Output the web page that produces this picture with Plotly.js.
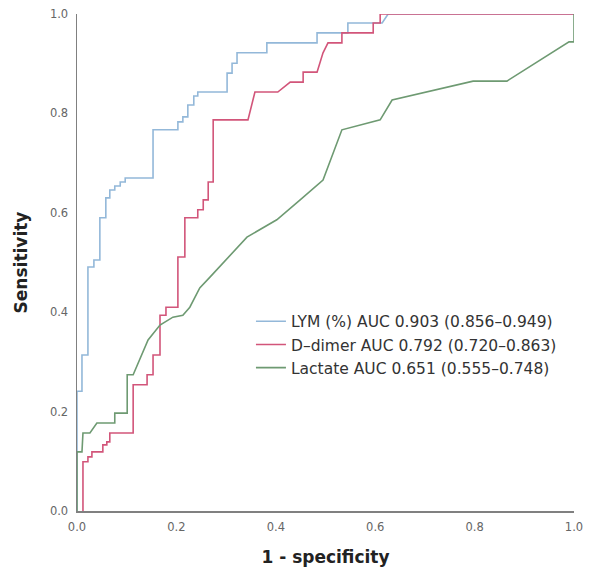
<!DOCTYPE html>
<html>
<head>
<meta charset="utf-8">
<script src="https://cdn.plot.ly/plotly-3.0.1.min.js"></script>
<style>html,body{margin:0;padding:0;background:#fff;}#chart{width:589px;height:578px;}</style>
</head>
<body>
<div id="chart"></div>
<script>
// ROC curve vertices: false positive rate (1 - specificity) and sensitivity
const lymFPR = [0,0,0.010,0.010,0.022,0.022,0.034,0.034,0.046,0.046,0.058,0.058,0.066,0.066,0.076,0.076,0.087,0.087,0.097,0.097,0.153,0.153,0.203,0.203,0.213,0.213,0.223,0.223,0.235,0.235,0.243,0.243,0.302,0.302,0.312,0.312,0.322,0.322,0.382,0.382,0.483,0.483,0.545,0.545,0.614,0.626,1];
const lymTPR = [0,0.241,0.241,0.314,0.314,0.491,0.491,0.505,0.505,0.590,0.590,0.630,0.630,0.646,0.646,0.654,0.654,0.662,0.662,0.670,0.670,0.767,0.767,0.783,0.783,0.793,0.793,0.817,0.817,0.835,0.835,0.843,0.843,0.881,0.881,0.901,0.901,0.922,0.922,0.942,0.942,0.962,0.962,0.982,0.982,1,1];

const ddFPR = [0.012,0.012,0.022,0.022,0.030,0.030,0.052,0.052,0.060,0.060,0.066,0.066,0.113,0.113,0.141,0.141,0.153,0.153,0.167,0.167,0.179,0.179,0.203,0.203,0.217,0.217,0.243,0.243,0.254,0.254,0.264,0.264,0.274,0.274,0.344,0.358,0.404,0.429,0.455,0.455,0.483,0.495,0.505,0.533,0.533,0.596,0.596,0.610,0.610,1];
const ddTPR = [0,0.099,0.099,0.109,0.109,0.119,0.119,0.133,0.133,0.139,0.139,0.157,0.157,0.254,0.254,0.274,0.274,0.314,0.314,0.394,0.394,0.410,0.410,0.511,0.511,0.590,0.590,0.606,0.606,0.626,0.626,0.662,0.662,0.787,0.787,0.843,0.843,0.863,0.863,0.883,0.883,0.922,0.942,0.942,0.962,0.962,0.982,0.982,1,1];

const lacFPR = [0,0,0.010,0.012,0.026,0.040,0.076,0.076,0.101,0.101,0.113,0.131,0.143,0.167,0.193,0.213,0.227,0.247,0.268,0.342,0.402,0.449,0.495,0.533,0.610,0.634,0.797,0.865,0.990,1,1];
const lacTPR = [0,0.119,0.119,0.157,0.157,0.177,0.177,0.197,0.197,0.274,0.274,0.318,0.344,0.374,0.390,0.394,0.410,0.449,0.471,0.551,0.586,0.626,0.666,0.767,0.787,0.827,0.865,0.865,0.944,0.944,1];

const seriesNames = ["LYM (%) AUC 0.903 (0.856\u20130.949)", "D\u2013dimer AUC 0.792 (0.720\u20130.863)", "Lactate AUC 0.651 (0.555\u20130.748)"];
const tickVals = [0, 0.2, 0.4, 0.6, 0.8, 1.0];
const tickText = ["0.0", "0.2", "0.4", "0.6", "0.8", "1.0"];

const traces = [
  {x: lymFPR, y: lymTPR, name: seriesNames[0], mode: "lines", line: {color: "#93b8d9", width: 1.6}},
  {x: ddFPR, y: ddTPR, name: seriesNames[1], mode: "lines", line: {color: "#d2557a", width: 1.6}},
  {x: lacFPR, y: lacTPR, name: seriesNames[2], mode: "lines", line: {color: "#6e9a72", width: 1.6}}
];

const axisCommon = {
  range: [0, 1], tickvals: tickVals, ticktext: tickText,
  showgrid: false, zeroline: false, showline: true, linecolor: "#808080", linewidth: 1.5,
  ticks: "", ticklabelstandoff: 5, tickfont: {family: "DejaVu Sans", size: 11.5, color: "#666"}
};

const layout = {
  width: 589, height: 578,
  margin: {l: 77, r: 15, t: 14, b: 67},
  paper_bgcolor: "#fff", plot_bgcolor: "#fff",
  showlegend: true,
  legend: {x: 0.35, y: 0.415, xanchor: "left", yanchor: "top", bgcolor: "rgba(0,0,0,0)",
           font: {family: "DejaVu Sans", size: 15.5, color: "#333"}, tracegroupgap: 0, itemwidth: 30},
  xaxis: Object.assign({}, axisCommon, {
    title: {text: "1 - specificity", font: {family: "DejaVu Sans", size: 17, color: "#222", weight: "bold"}, standoff: 18}
  }),
  yaxis: Object.assign({}, axisCommon, {
    title: {text: "Sensitivity", font: {family: "DejaVu Sans", size: 17, color: "#222", weight: "bold"}, standoff: 18}
  })
};

Plotly.newPlot("chart", traces, layout, {displayModeBar: false, staticPlot: true});
</script>
</body>
</html>
